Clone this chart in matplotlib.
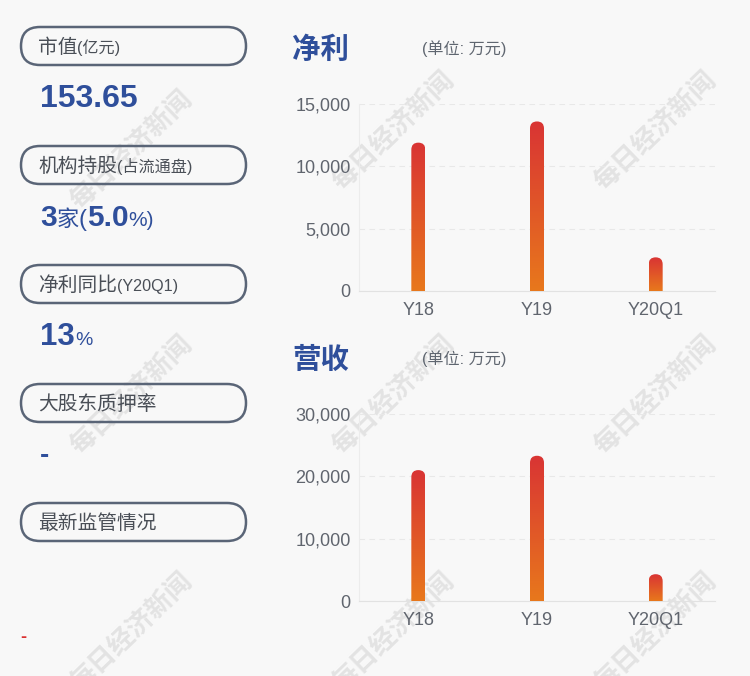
import numpy as np
import matplotlib
matplotlib.use("Agg")
import matplotlib.pyplot as plt
from matplotlib.patches import FancyBboxPatch
from matplotlib.colors import LinearSegmentedColormap

plt.rcParams['font.family'] = ['Liberation Sans', 'Noto Sans CJK SC', 'DejaVu Sans']

# 数据
categorias = ['Y18', 'Y19', 'Y20Q1']
jinli = [11900, 13600, 2700]        # 净利 (万元)
yingshou = [21000, 23300, 4300]     # 营收 (万元)
jinli_ticks = [0, 5000, 10000, 15000]
yingshou_ticks = [0, 10000, 20000, 30000]

W, H = 750, 676
BG = '#f8f8f8'
BLUE = '#2f4f9b'
GRAY_TXT = '#4a4f57'
TICK = '#60656e'

fig = plt.figure(figsize=(W / 100, H / 100), dpi=100, facecolor=BG)

# capa de fondo en coordenadas de píxel
bg = fig.add_axes([0, 0, 1, 1], zorder=0)
bg.set_xlim(0, W)
bg.set_ylim(H, 0)
bg.axis('off')
bg.set_facecolor(BG)

# marcas de agua
for cx, cy in [(131, 150), (131, 395), (131, 632), (393, 131), (655, 131),
               (393, 395), (655, 395), (393, 632), (655, 632)]:
    bg.text(cx, cy, '每日经济新闻', rotation=44, ha='center', va='center',
            fontsize=19, fontweight='bold', color='#e3e3e3', zorder=1,
            family=['Noto Sans CJK SC'])

renderer = fig.canvas.get_renderer()


def piezas(x, y, partes):
    # dibuja texto en trozos de distinto tamaño, uno tras otro
    for s, size, weight, color in partes:
        t = bg.text(x, y, s, fontsize=size, fontweight=weight, color=color,
                    ha='left', va='baseline', zorder=5)
        bb = t.get_window_extent(renderer=renderer)
        x += bb.width


# cajas redondeadas de la izquierda
etiquetas = [
    [('市值', 14.2, 'normal'), ('(亿元)', 11.6, 'normal')],
    [('机构持股', 14.2, 'normal'), ('(占流通盘)', 11.6, 'normal')],
    [('净利同比', 14.2, 'normal'), ('(Y20Q1)', 11.6, 'normal')],
    [('大股东质押率', 14.2, 'normal')],
    [('最新监管情况', 14.2, 'normal')],
]
for i, partes in enumerate(etiquetas):
    top = 27 + i * 119
    caja = FancyBboxPatch((21, top), 225, 38, boxstyle='round,pad=0,rounding_size=19',
                          fc='none', ec='#5a6577', lw=1.8, zorder=4)
    bg.add_patch(caja)
    piezas(38, top + 26, [(s, sz, w, GRAY_TXT) for s, sz, w in partes])

# valores
piezas(40, 107, [('153.65', 23, 'bold', BLUE)])
piezas(40, 226, [('3', 21.5, 'bold', BLUE), ('家', 16, 'normal', BLUE),
                 ('(', 17, 'normal', BLUE), ('5.0', 21.5, 'bold', BLUE),
                 ('%)', 15, 'normal', BLUE)])
piezas(40, 345, [('13', 22.5, 'bold', BLUE), ('%', 14, 'normal', BLUE)])
piezas(40, 463, [('-', 20, 'bold', BLUE)])
piezas(20, 642, [('-', 13, 'bold', '#d93030')])

# títulos de los gráficos
for y_t, titulo in [(50, '净利'), (360, '营收')]:
    bg.text(292, y_t, titulo, fontsize=20.5, fontweight='bold', color=BLUE,
            ha='left', va='center', zorder=5)
    bg.text(422, y_t - 1, '(单位: 万元)', fontsize=11.6, color='#5f6670',
            ha='left', va='center', zorder=5)

cmap = LinearSegmentedColormap.from_list('grad', ['#e8781c', '#d93434'])
grad = np.linspace(0, 1, 256).reshape(-1, 1)


def grafico(rect_px, valores, ticks):
    x0, y_top, x1, y_bot = rect_px
    ax = fig.add_axes([x0 / W, 1 - y_bot / H, (x1 - x0) / W, (y_bot - y_top) / H], zorder=2)
    ax.set_facecolor('none')
    ax.set_xlim(-0.5, len(valores) - 0.5)
    ax.set_ylim(0, ticks[-1])
    ax.set_yticks(ticks)
    ax.set_yticklabels([f'{t:,}' for t in ticks])
    ax.set_xticks(range(len(categorias)))
    ax.set_xticklabels(categorias)
    ax.tick_params(length=0, labelsize=13, colors=TICK)
    ax.tick_params(axis='y', pad=6)
    ax.tick_params(axis='x', pad=8)
    for s in ['top', 'right']:
        ax.spines[s].set_visible(False)
    ax.spines['bottom'].set_color('#e2e2e2')
    ax.spines['left'].set_color('#ececec')
    ax.grid(axis='y', linestyle=(0, (5, 4)), color='#e8e8e8', lw=0.8)
    ax.set_axisbelow(True)

    ancho_px = 14
    px_x = (x1 - x0) / len(valores)
    px_y = (y_bot - y_top) / ticks[-1]
    w = ancho_px / px_x
    aspecto = (1 / px_y) / (1 / px_x)
    for i, v in enumerate(valores):
        r = w / 2
        forma = FancyBboxPatch((i - w / 2, -r * aspecto), w, v + r * aspecto,
                               boxstyle=f'round,pad=0,rounding_size={r}',
                               mutation_aspect=aspecto, fc='none', ec='none')
        ax.add_patch(forma)
        im = ax.imshow(grad, cmap=cmap, origin='lower', aspect='auto',
                       extent=(i - w / 2, i + w / 2, 0, v), zorder=3)
        im.set_clip_path(forma)
    ax.set_xlim(-0.5, len(valores) - 0.5)
    ax.set_ylim(0, ticks[-1])
    return ax


grafico((359, 104, 715, 291), jinli, jinli_ticks)
grafico((359, 414, 715, 601), yingshou, yingshou_ticks)

fig.savefig('out.png', dpi=100, facecolor=BG)
